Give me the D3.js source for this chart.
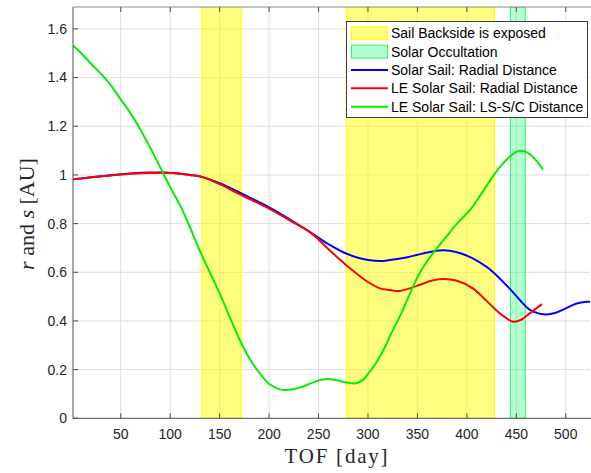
<!DOCTYPE html>
<html>
<head>
<meta charset="utf-8">
<script src="https://cdn.jsdelivr.net/npm/d3@7"></script>
<style>
  html, body { margin: 0; padding: 0; background: #fff; }
  svg { display: block; }
</style>
</head>
<body>
<svg id="chart" width="591" height="473"></svg>
<script>
// Time-of-flight intervals (days)
const backsideIntervals = [[132, 172], [278, 428]];
const occultationIntervals = [[444, 459]];

// Solar sail radial distance r [AU]
const daysSail = [1.7, 20, 40, 60, 80, 92, 100, 110, 120, 132, 150, 172, 200, 220, 241, 260, 278, 290, 312, 322, 340, 350, 369, 376, 383, 395, 406, 420, 426, 443, 460, 467, 480, 490, 500, 511, 521, 525];
const sailR = [0.982, 0.99, 0.999, 1.006, 1.01, 1.01, 1.008, 1.005, 1.0, 0.992, 0.966, 0.924, 0.867, 0.82, 0.766, 0.716, 0.677, 0.66, 0.646, 0.65, 0.662, 0.672, 0.688, 0.69, 0.688, 0.676, 0.657, 0.622, 0.602, 0.534, 0.458, 0.438, 0.427, 0.434, 0.452, 0.472, 0.479, 0.479];

// LE solar sail radial distance r [AU]
const daysLE = [1.7, 20, 40, 60, 80, 92, 100, 110, 120, 132, 150, 172, 200, 220, 241, 260, 278, 290, 300, 312, 322, 332, 350, 365, 376, 390, 406, 426, 437, 446.6, 455, 463.5, 476];
const leR = [0.982, 0.99, 0.998, 1.005, 1.008, 1.009, 1.008, 1.005, 1.0, 0.992, 0.962, 0.917, 0.862, 0.815, 0.766, 0.695, 0.629, 0.59, 0.56, 0.534, 0.527, 0.523, 0.545, 0.566, 0.572, 0.565, 0.534, 0.458, 0.42, 0.397, 0.405, 0.431, 0.469];

// LE solar sail: light source to spacecraft distance s [AU]
const daysLS = [1.7, 10, 20, 30, 40, 50, 60, 70, 80, 90, 100, 110, 120, 130, 140, 150, 160, 170, 180, 190, 200, 210, 217, 230, 240, 250, 258, 270, 280, 288, 295, 300, 308, 318, 325, 332, 340, 352, 365, 379, 390, 403, 415, 426, 435, 443, 450, 455, 462, 470, 477];
const leLS = [1.532, 1.5, 1.457, 1.415, 1.368, 1.31, 1.253, 1.185, 1.11, 1.03, 0.95, 0.875, 0.785, 0.688, 0.6, 0.513, 0.418, 0.325, 0.247, 0.188, 0.142, 0.12, 0.116, 0.125, 0.14, 0.155, 0.161, 0.155, 0.146, 0.144, 0.158, 0.183, 0.226, 0.3, 0.362, 0.417, 0.49, 0.595, 0.675, 0.745, 0.8, 0.855, 0.925, 0.992, 1.04, 1.074, 1.095, 1.099, 1.09, 1.06, 1.022];

// Axis ticks
const xTicks = [50, 100, 150, 200, 250, 300, 350, 400, 450, 500];
const yTicks = [0, 0.2, 0.4, 0.6, 0.8, 1, 1.2, 1.4, 1.6];

const legendLabels = [
  "Sail Backside is exposed",
  "Solar Occultation",
  "Solar Sail: Radial Distance",
  "LE Solar Sail: Radial Distance",
  "LE Solar Sail: LS-S/C Distance"
];

const svg = d3.select("#chart");
const L = 73, R = 590, T = 7, B = 418.3;
const axisColor = "#4d4d4d";
const textColor = "#262626";

const x = d3.scaleLinear().domain([1.7, 524.5]).range([L, R]);
const y = d3.scaleLinear().domain([0, 1.69]).range([B, T]);

svg.append("defs").append("clipPath").attr("id", "plotClip")
  .append("rect").attr("x", L).attr("y", T).attr("width", R - L).attr("height", B - T);

// Grid
const grid = svg.append("g");
grid.selectAll(".gx").data(xTicks).join("line")
  .attr("x1", d => x(d)).attr("x2", d => x(d)).attr("y1", T).attr("y2", B)
  .attr("stroke", "#dedede").attr("stroke-width", 1);
grid.selectAll(".gy").data(yTicks.filter(d => d > 0)).join("line")
  .attr("x1", L).attr("x2", R).attr("y1", d => y(d)).attr("y2", d => y(d))
  .attr("stroke", "#dedede").attr("stroke-width", 1);

const plot = svg.append("g").attr("clip-path", "url(#plotClip)");

// Shaded intervals
plot.selectAll(".back").data(backsideIntervals).join("rect")
  .attr("x", d => x(d[0])).attr("width", d => x(d[1]) - x(d[0]))
  .attr("y", T).attr("height", B - T)
  .attr("fill", "rgba(255,255,0,0.5)").attr("stroke", "#ffff00").attr("stroke-width", 1);
plot.selectAll(".occ").data(occultationIntervals).join("rect")
  .attr("x", d => x(d[0])).attr("width", d => x(d[1]) - x(d[0]))
  .attr("y", T).attr("height", B - T)
  .attr("fill", "rgba(0,255,100,0.3)").attr("stroke", "#33f070").attr("stroke-width", 1);

// Curves
const line = d3.line().x(d => x(d[0])).y(d => y(d[1])).curve(d3.curveCatmullRom.alpha(0.5));
const series = [
  { days: daysSail, vals: sailR, color: "#0000ff" },
  { days: daysLE, vals: leR, color: "#ff0000" },
  { days: daysLS, vals: leLS, color: "#00f000" }
];
series.forEach(s => {
  plot.append("path")
    .datum(s.days.map((d, i) => [d, s.vals[i]]))
    .attr("d", line)
    .attr("fill", "none").attr("stroke", s.color).attr("stroke-width", 2)
    .attr("stroke-linejoin", "round");
});

// Axes box and ticks
const ax = svg.append("g");
ax.append("line").attr("x1", L).attr("x2", L).attr("y1", T).attr("y2", B).attr("stroke", axisColor);
ax.append("line").attr("x1", L).attr("x2", R + 1).attr("y1", B).attr("y2", B).attr("stroke", axisColor);
ax.append("line").attr("x1", L).attr("x2", R + 1).attr("y1", T).attr("y2", T).attr("stroke", "#8a8a8a");
xTicks.forEach(t => {
  ax.append("line").attr("x1", x(t)).attr("x2", x(t)).attr("y1", B).attr("y2", B - 5).attr("stroke", axisColor);
  ax.append("line").attr("x1", x(t)).attr("x2", x(t)).attr("y1", T).attr("y2", T + 5).attr("stroke", axisColor);
});
yTicks.forEach(t => {
  ax.append("line").attr("x1", L).attr("x2", L + 5).attr("y1", y(t)).attr("y2", y(t)).attr("stroke", axisColor);
});

// Tick labels
svg.append("g").selectAll("text").data(xTicks).join("text")
  .attr("x", d => x(d)).attr("y", 439)
  .attr("text-anchor", "middle")
  .attr("font-family", "'Liberation Sans', Arial, sans-serif").attr("font-size", 14)
  .attr("fill", textColor).text(d => d);
svg.append("g").selectAll("text").data(yTicks).join("text")
  .attr("x", 67).attr("y", d => y(d)).attr("dy", "0.35em")
  .attr("text-anchor", "end")
  .attr("font-family", "'Liberation Sans', Arial, sans-serif").attr("font-size", 14)
  .attr("fill", textColor).text(d => (d === 0 || d === 1) ? String(d) : d.toFixed(1));

// Axis titles
svg.append("text")
  .attr("x", 336).attr("y", 463).attr("text-anchor", "middle")
  .attr("font-family", "'Liberation Serif', 'DejaVu Serif', serif").attr("font-size", 21)
  .attr("textLength", 103).attr("lengthAdjust", "spacing")
  .attr("fill", textColor).text("TOF [day]");

const yTitle = svg.append("text")
  .attr("transform", "translate(34,214) rotate(-90)")
  .attr("text-anchor", "middle")
  .attr("font-family", "'Liberation Serif', 'DejaVu Serif', serif").attr("font-size", 22)
  .attr("fill", textColor);
yTitle.append("tspan").attr("font-style", "italic").text("r");
yTitle.append("tspan").text(" and ");
yTitle.append("tspan").attr("font-style", "italic").text("s");
yTitle.append("tspan").text(" [AU]");

// Legend
const lg = svg.append("g");
const lgX = 346, lgY = 21, lgW = 241, lgH = 96;
lg.append("rect").attr("x", lgX + 0.5).attr("y", lgY + 0.5).attr("width", lgW).attr("height", lgH)
  .attr("fill", "#fff").attr("stroke", "#3c3c3c").attr("stroke-width", 1);
const rowY = i => 33.3 + i * 18.35;
lg.append("rect").attr("x", 351.5).attr("y", rowY(0) - 6.5).attr("width", 36).attr("height", 13)
  .attr("fill", "rgba(255,255,0,0.5)").attr("stroke", "#ffff00");
lg.append("rect").attr("x", 351.5).attr("y", rowY(1) - 6.5).attr("width", 36).attr("height", 13)
  .attr("fill", "rgba(0,255,100,0.3)").attr("stroke", "#33f070");
series.forEach((s, i) => {
  lg.append("line").attr("x1", 351).attr("x2", 388).attr("y1", rowY(i + 2)).attr("y2", rowY(i + 2))
    .attr("stroke", s.color).attr("stroke-width", 2);
});
lg.selectAll(".lt").data(legendLabels).join("text")
  .attr("x", 391).attr("y", (d, i) => rowY(i)).attr("dy", "0.36em")
  .attr("font-family", "'Liberation Sans', Arial, sans-serif").attr("font-size", 14)
  .attr("fill", "#000").text(d => d);
</script>
</body>
</html>
